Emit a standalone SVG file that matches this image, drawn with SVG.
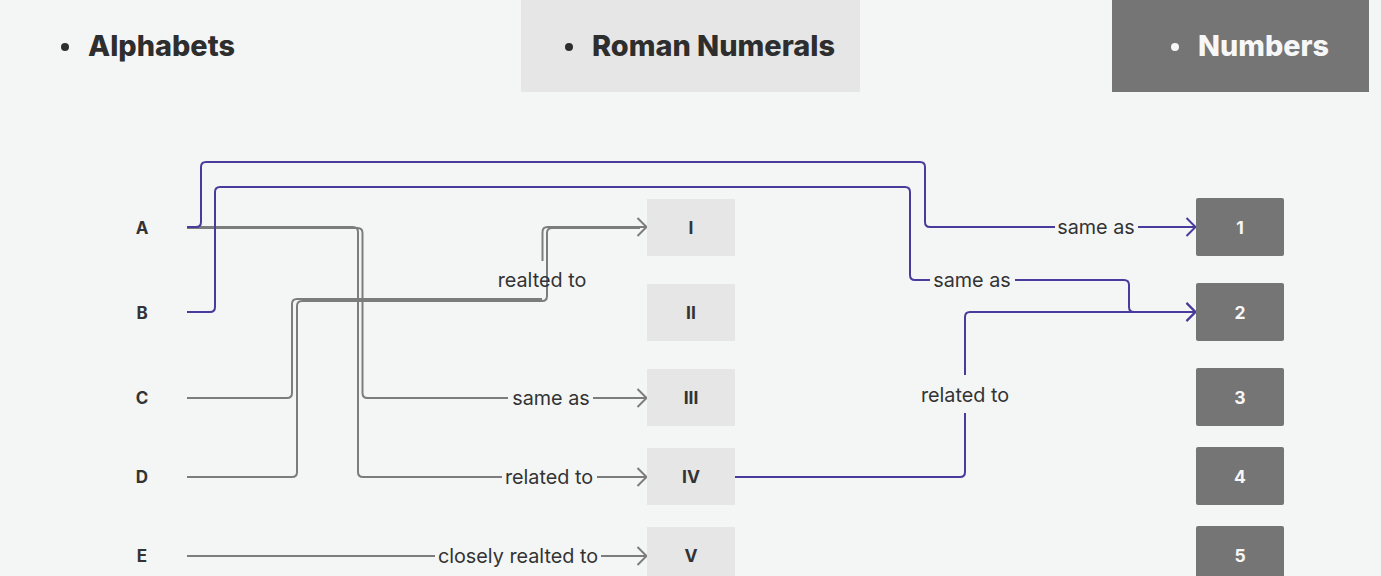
<svg xmlns="http://www.w3.org/2000/svg" width="1381" height="576" viewBox="0 0 1381 576">
<defs>
<style>
.bg{fill:#f4f6f6}
.hd{font-family:Inter,"Liberation Sans",sans-serif;font-weight:800;font-size:28.5px;fill:#2e2e2e}
.hdw{fill:#f7f7f7}
.lt{font-family:Inter,"Liberation Sans",sans-serif;font-weight:700;font-size:17px;fill:#333;text-anchor:middle}
.nt{font-family:Inter,"Liberation Sans",sans-serif;font-weight:700;font-size:17.5px;text-anchor:middle}
.lb{font-family:Inter,"Liberation Sans",sans-serif;font-size:19.8px;fill:#333;text-anchor:middle}
.rn{fill:#e6e6e6}
.nb{fill:#757575}
.g{fill:none;stroke:#7c7c7c;stroke-width:2}
.p{fill:none;stroke:#4a3a9b;stroke-width:2}
</style>
<marker id="ag" viewBox="0 0 12 20" refX="11" refY="10" markerWidth="12" markerHeight="20" markerUnits="userSpaceOnUse" orient="auto">
<path d="M1.5,1 L10.5,10 L1.5,19" fill="none" stroke="#7c7c7c" stroke-width="2"/>
</marker>
<marker id="ap" viewBox="0 0 12 20" refX="11" refY="10" markerWidth="12" markerHeight="20" markerUnits="userSpaceOnUse" orient="auto">
<path d="M1.5,1 L10.5,10 L1.5,19" fill="none" stroke="#4a3a9b" stroke-width="2"/>
</marker>
</defs>
<rect class="bg" x="0" y="0" width="1381" height="576"/>

<g id="header-alphabets">
<circle cx="65" cy="47" r="4" fill="#2e2e2e"/>
<text class="hd" x="88" y="56" textLength="147" lengthAdjust="spacingAndGlyphs">Alphabets</text>
</g>
<g id="header-roman">
<rect class="rn" x="521" y="-1" width="339" height="93"/>
<circle cx="569" cy="47" r="4" fill="#2e2e2e"/>
<text class="hd" x="592" y="56" textLength="243" lengthAdjust="spacingAndGlyphs">Roman Numerals</text>
</g>
<g id="header-numbers">
<rect class="nb" x="1112" y="-1" width="257" height="93"/>
<circle cx="1175" cy="47" r="4" fill="#f7f7f7"/>
<text class="hd hdw" x="1198" y="56" textLength="131" lengthAdjust="spacingAndGlyphs">Numbers</text>
</g>

<g id="connectors">
<path class="g" d="M187,227 H353 Q358,227 358,232 V472 Q358,477 363,477 H502"/>
<path class="g" d="M597,477 H647" marker-end="url(#ag)"/>
<path class="g" d="M187,228 H357.5 Q362.5,228 362.5,233 V393 Q362.5,398 367.5,398 H508"/>
<path class="g" d="M593,398 H647" marker-end="url(#ag)"/>
<path class="g" d="M187,556 H435"/>
<path class="g" d="M601,556 H647" marker-end="url(#ag)"/>
<path class="g" d="M187,398 H287 Q292,398 292,393 V304 Q292,299 297,299 H542"/>
<path class="g" d="M542.5,261 V232 Q542.5,227 547.5,227 H647" marker-end="url(#ag)"/>
<path class="g" d="M187,477 H292 Q297,477 297,472 V306 Q297,301 302,301 H542 Q547,301 547,296 V233 Q547,228 552,228 H640"/>
<path class="p" d="M187,227 H196 Q201,227 201,222 V167 Q201,162 206,162 H920 Q925,162 925,167 V222 Q925,227 930,227 H1055"/>
<path class="p" d="M1138,227 H1196" marker-end="url(#ap)"/>
<path class="p" d="M187,312 H210 Q215,312 215,307 V192 Q215,187 220,187 H905 Q910,187 910,192 V275 Q910,280 915,280 H930"/>
<path class="p" d="M1015,280 H1124 Q1129,280 1129,285 V307 Q1129,312 1134,312 H1196" marker-end="url(#ap)"/>
<path class="p" d="M735,477 H960 Q965,477 965,472 V413"/>
<path class="p" d="M965,375 V317 Q965,312 970,312 H1196" marker-end="url(#ap)"/>
<text class="lb" x="551" y="405">same as</text>
<text class="lb" x="549" y="484">related to</text>
<text class="lb" x="518" y="563">closely realted to</text>
<text class="lb" x="542" y="287">realted to</text>
<text class="lb" x="1096" y="234">same as</text>
<text class="lb" x="972" y="287">same as</text>
<text class="lb" x="965" y="402">related to</text>
</g>

<g id="node-A"><text class="lt" x="142" y="234">A</text></g>
<g id="node-B"><text class="lt" x="142" y="319">B</text></g>
<g id="node-C"><text class="lt" x="142" y="404">C</text></g>
<g id="node-D"><text class="lt" x="142" y="483">D</text></g>
<g id="node-E"><text class="lt" x="142" y="562">E</text></g>

<g id="node-I"><rect class="rn" x="647" y="199" width="88" height="57"/><text class="nt" fill="#333" x="691" y="234">I</text></g>
<g id="node-II"><rect class="rn" x="647" y="284" width="88" height="57"/><text class="nt" fill="#333" x="691" y="319">II</text></g>
<g id="node-III"><rect class="rn" x="647" y="369" width="88" height="57"/><text class="nt" fill="#333" x="691" y="404">III</text></g>
<g id="node-IV"><rect class="rn" x="647" y="448" width="88" height="57"/><text class="nt" fill="#333" x="691" y="483">IV</text></g>
<g id="node-V"><rect class="rn" x="647" y="527" width="88" height="57"/><text class="nt" fill="#333" x="691" y="562">V</text></g>

<g id="node-1"><rect class="nb" x="1196" y="198" width="88" height="58" rx="2"/><text class="nt" fill="#f7f7f7" x="1240" y="234">1</text></g>
<g id="node-2"><rect class="nb" x="1196" y="283" width="88" height="58" rx="2"/><text class="nt" fill="#f7f7f7" x="1240" y="319">2</text></g>
<g id="node-3"><rect class="nb" x="1196" y="368" width="88" height="58" rx="2"/><text class="nt" fill="#f7f7f7" x="1240" y="404">3</text></g>
<g id="node-4"><rect class="nb" x="1196" y="447" width="88" height="58" rx="2"/><text class="nt" fill="#f7f7f7" x="1240" y="483">4</text></g>
<g id="node-5"><rect class="nb" x="1196" y="526" width="88" height="58" rx="2"/><text class="nt" fill="#f7f7f7" x="1240" y="562">5</text></g>
</svg>
